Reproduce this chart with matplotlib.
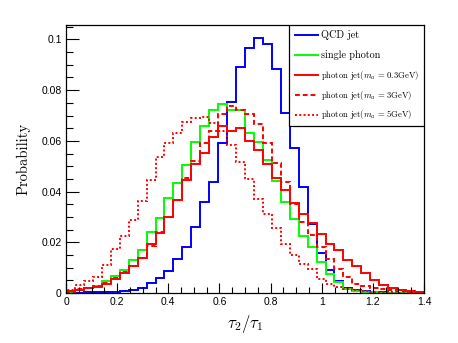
import matplotlib
matplotlib.use("Agg")
import matplotlib.pyplot as plt
import numpy as np
from matplotlib.patches import Rectangle
from matplotlib.ticker import MultipleLocator

# 40 bins from 0 to 1.4
edges = np.linspace(0, 1.4, 41)

qcd_jet = [0.0001, 0.0001, 0.0002, 0.0003, 0.0004, 0.0005, 0.0008, 0.0013, 0.0020, 0.0039,
           0.0058, 0.0088, 0.0134, 0.0180, 0.0259, 0.0358, 0.0436, 0.0593, 0.0752, 0.0893,
           0.0967, 0.1007, 0.0983, 0.0882, 0.0711, 0.0570, 0.0419, 0.0274, 0.0156, 0.0091,
           0.0046, 0.0020, 0.0012, 0.0006, 0.0004, 0.0002, 0.0001, 0.0001, 0.0, 0.0]

single_photon = [0.0004, 0.0010, 0.0018, 0.0027, 0.0048, 0.0066, 0.0092, 0.0131, 0.0170, 0.0239,
                 0.0297, 0.0373, 0.0433, 0.0504, 0.0597, 0.0657, 0.0721, 0.0746, 0.0721, 0.0721,
                 0.0630, 0.0596, 0.0525, 0.0441, 0.0357, 0.0290, 0.0223, 0.0180, 0.0121, 0.0075,
                 0.0045, 0.0016, 0.0006, 0.0003, 0.0002, 0.0001, 0.0, 0.0, 0.0, 0.0]

photon_jet_03 = [0.0008, 0.0013, 0.0018, 0.0022, 0.0035, 0.0055, 0.0079, 0.0106, 0.0137, 0.0195,
                 0.0235, 0.0300, 0.0365, 0.0445, 0.0510, 0.0554, 0.0615, 0.0660, 0.0640, 0.0650,
                 0.0600, 0.0564, 0.0508, 0.0455, 0.0407, 0.0355, 0.0311, 0.0278, 0.0232, 0.0195,
                 0.0170, 0.0132, 0.0105, 0.0079, 0.0050, 0.0030, 0.0018, 0.0012, 0.0008, 0.0005]

photon_jet_3 = [0.0005, 0.0014, 0.0020, 0.0028, 0.0040, 0.0060, 0.0082, 0.0105, 0.0140, 0.0185,
                0.0240, 0.0300, 0.0365, 0.0455, 0.0520, 0.0590, 0.0640, 0.0705, 0.0737, 0.0723,
                0.0705, 0.0665, 0.0590, 0.0514, 0.0438, 0.0350, 0.0280, 0.0230, 0.0180, 0.0135,
                0.0095, 0.0065, 0.0035, 0.0026, 0.0018, 0.0014, 0.0010, 0.0007, 0.0004, 0.0002]

photon_jet_5 = [0.0013, 0.0030, 0.0046, 0.0065, 0.0112, 0.0173, 0.0225, 0.0289, 0.0363, 0.0445,
                0.0537, 0.0590, 0.0633, 0.0675, 0.0690, 0.0696, 0.0670, 0.0640, 0.0585, 0.0517,
                0.0448, 0.0370, 0.0313, 0.0258, 0.0193, 0.0150, 0.0114, 0.0094, 0.0055, 0.0035,
                0.0022, 0.0015, 0.0010, 0.0007, 0.0005, 0.0003, 0.0002, 0.0001, 0.0, 0.0]

labels = ["QCD jet", "single photon",
          r"photon jet($m_a\,=\,0.3$GeV)",
          r"photon jet($m_a\,=\,3$GeV)",
          r"photon jet($m_a\,=\,5$GeV)"]
series = [qcd_jet, single_photon, photon_jet_03, photon_jet_3, photon_jet_5]
colors = ["#0000ff", "#00ff00", "#ff0000", "#ff0000", "#ff0000"]
styles = ["-", "-", "-", (0, (2.5, 1.5)), (0, (1, 1.2))]
label_sizes = [7.3, 7.3, 6.2, 6.2, 6.2]

plt.rcParams["mathtext.fontset"] = "cm"

fig = plt.figure(figsize=(4.58, 3.43), dpi=100)
ax = fig.add_axes([66 / 458, 1 - 293 / 343, 358 / 458, 268 / 343])

for vals, c, ls in zip(series, colors, styles):
    ax.stairs(vals, edges, color=c, linestyle=ls, linewidth=1.4)

ax.set_xlim(0, 1.4)
ax.set_ylim(0, 0.1057)
ax.xaxis.set_major_locator(MultipleLocator(0.2))
ax.xaxis.set_minor_locator(MultipleLocator(0.05))
ax.yaxis.set_major_locator(MultipleLocator(0.02))
ax.yaxis.set_minor_locator(MultipleLocator(0.005))
ax.tick_params(which="both", direction="in", top=False, right=False,
               labelsize=7.5, width=0.8)
ax.tick_params(axis="x", which="major", length=7, pad=3)
ax.tick_params(axis="x", which="minor", length=4)
ax.tick_params(axis="y", which="major", length=9, pad=3)
ax.tick_params(axis="y", which="minor", length=5)
ax.xaxis.set_major_formatter(plt.FuncFormatter(lambda v, p: f"{v:g}"))
ax.yaxis.set_major_formatter(plt.FuncFormatter(lambda v, p: f"{v:g}"))
for t in ax.get_xticklabels() + ax.get_yticklabels():
    t.set_fontfamily("Liberation Sans")
for sp in ax.spines.values():
    sp.set_linewidth(0.9)

ax.set_xlabel(r"$\tau_2/\tau_1$", fontsize=12, labelpad=4)
ax.set_ylabel("Probability", fontsize=10.5, family="DejaVu Serif", labelpad=8)
ax.yaxis.label.set_fontfamily("cmr10")

# legend box in the top right corner (ROOT style)
lx0, ly0 = (289 - 66) / 358, (293 - 126) / 268
ax.add_patch(Rectangle((lx0, ly0), 1 - lx0, 1 - ly0, transform=ax.transAxes,
                       facecolor="white", edgecolor="black", linewidth=0.9, zorder=5))
entry_y = [35, 54.5, 75, 95, 114.5]
for lab, c, ls, fs, py in zip(labels, colors, styles, label_sizes, entry_y):
    yy = (293 - py) / 268
    ax.plot([(295 - 66) / 358, (318 - 66) / 358], [yy, yy], transform=ax.transAxes,
            color=c, linestyle=ls, linewidth=1.4, zorder=6)
    ax.text((321 - 66) / 358, yy, lab, transform=ax.transAxes, fontsize=fs,
            family="cmr10", va="center", ha="left", zorder=6)

fig.savefig("out.png", dpi=100)
